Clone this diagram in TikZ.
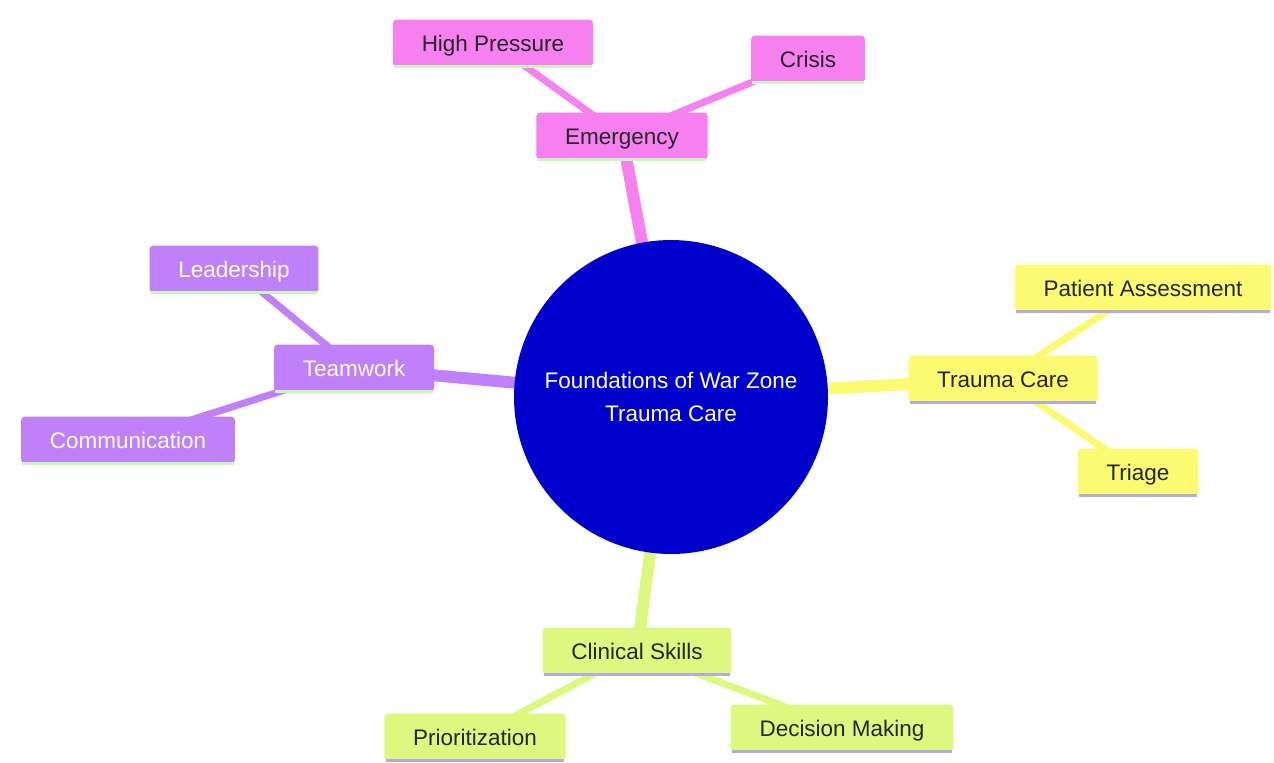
\documentclass[tikz,border=0pt]{standalone}
\usepackage{fontspec}
\setmainfont{Liberation Sans}
\usetikzlibrary{backgrounds}

\definecolor{hubblue}{RGB}{0,0,205}
\definecolor{emcpink}{RGB}{246,128,240}
\definecolor{teampurple}{RGB}{192,128,250}
\definecolor{careyellow}{RGB}{251,250,112}
\definecolor{skilllime}{RGB}{221,248,126}
\definecolor{mintrule}{RGB}{200,245,190}
\definecolor{lavrule}{RGB}{178,170,225}

\begin{document}
\begin{tikzpicture}[x=0.02cm,y=-0.02cm,
    underrule/.style={append after command={([xshift=1pt]\tikzlastnode.south west) edge[draw=#1,line width=1.6pt] ([xshift=-1pt]\tikzlastnode.south east)}},
    topic/.style={rectangle,rounded corners=2pt,inner xsep=16.4pt,inner ysep=0pt,
                  text height=9.6pt,text depth=0pt,
                  minimum height=26.6pt,text=black!85,font=\fontsize{12.8}{15}\selectfont},
    emcbox/.style={topic,fill=emcpink,underrule=mintrule},
    teambox/.style={topic,fill=teampurple,text=white,underrule=mintrule},
    carebox/.style={topic,fill=careyellow,underrule=lavrule},
    skillbox/.style={topic,fill=skilllime,underrule=lavrule}]
	\useasboundingbox (0,0) rectangle (1274,762);

	\node[circle,fill=hubblue,minimum size=6.28cm,text=white,align=center,
	      font=\fontsize{12.8}{18.7}\selectfont] (hub) at (671,397) {Foundations of War Zone\\Trauma Care};

	\node[emcbox] (emergency) at (622,136) {Emergency};
	\node[emcbox] (pressure) at (493,43) {High Pressure};
	\node[emcbox] (crisis) at (808,59) {Crisis};

	\node[carebox] (trauma) at (1003,379) {Trauma Care};
	\node[carebox] (assess) at (1143,288) {Patient Assessment};
	\node[carebox] (triage) at (1138,472) {Triage};

	\node[teambox] (teamwork) at (354,368) {Teamwork};
	\node[teambox] (leader) at (234,269) {Leadership};
	\node[teambox] (comm) at (128,440) {Communication};

	\node[skillbox] (clinical) at (637,651) {Clinical Skills};
	\node[skillbox] (prior) at (475,737) {Prioritization};
	\node[skillbox] (decide) at (842,728) {Decision Making};

	\begin{scope}[on background layer]
		\path[every edge/.style={draw=emcpink,line width=6.8pt}] (hub.center) edge (emergency.center);
		\path[every edge/.style={draw=careyellow,line width=6.8pt}] (hub.center) edge (trauma.center);
		\path[every edge/.style={draw=teampurple,line width=6.8pt}] (hub.center) edge (teamwork.center);
		\path[every edge/.style={draw=skilllime,line width=6.8pt}] (hub.center) edge (clinical.center);

		\path[every edge/.style={draw=emcpink,line width=4pt}]
			(emergency.center) edge (pressure.center)
			(emergency.center) edge (crisis.center);
		\path[every edge/.style={draw=careyellow,line width=4pt}]
			(trauma.center) edge (assess.center)
			(trauma.center) edge (triage.center);
		\path[every edge/.style={draw=teampurple,line width=4pt}]
			(teamwork.center) edge (leader.center)
			(teamwork.center) edge (comm.center);
		\path[every edge/.style={draw=skilllime,line width=4pt}]
			(clinical.center) edge (prior.center)
			(clinical.center) edge (decide.center);
	\end{scope}
\end{tikzpicture}
\end{document}
